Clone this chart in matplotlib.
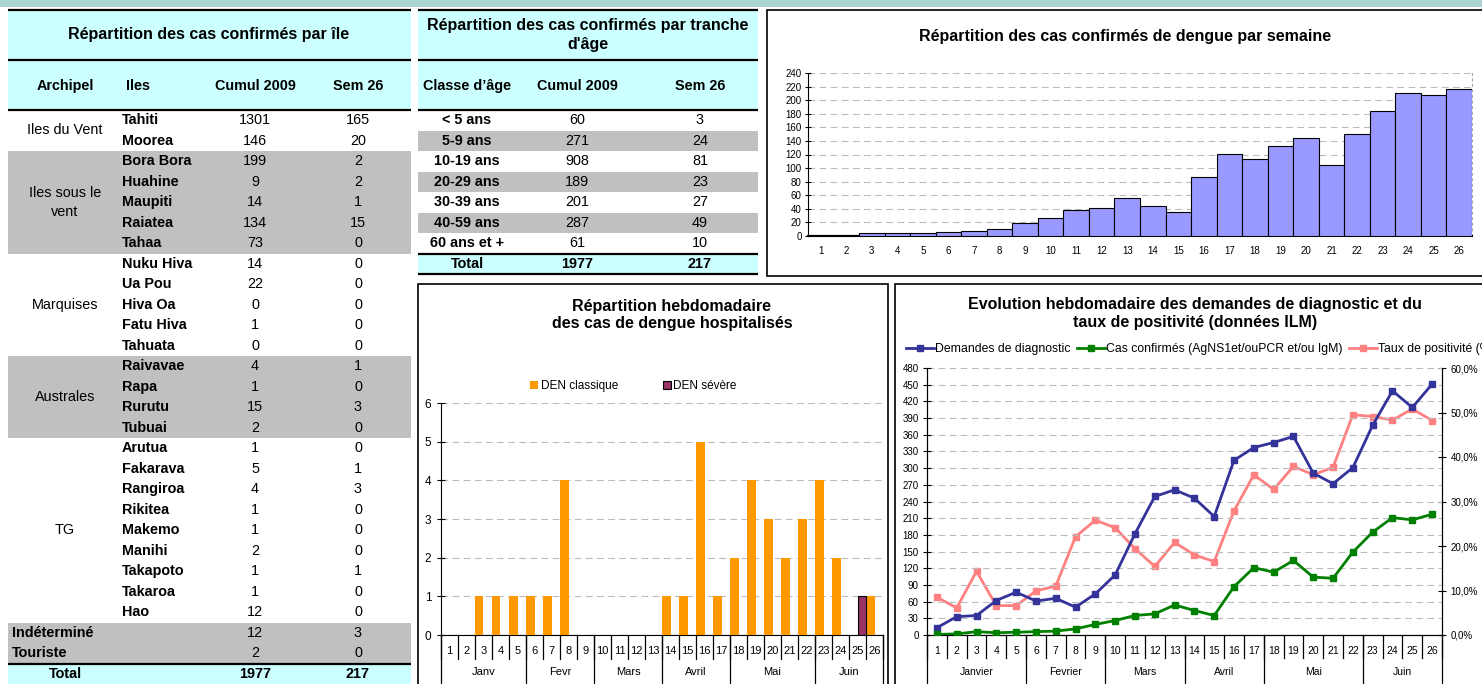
import matplotlib.pyplot as plt
import matplotlib.transforms as mtransforms
from matplotlib.patches import Rectangle
import numpy as np

plt.rcParams['font.family'] = ['Liberation Sans', 'DejaVu Sans']

W, H = 1482, 684

# table par ile
archipels = ["Iles du Vent", "Iles sous le\nvent", "Marquises", "Australes", "TG"]
archipel_sizes = [2, 5, 5, 4, 9]
iles = ["Tahiti", "Moorea", "Bora Bora", "Huahine", "Maupiti", "Raiatea", "Tahaa",
        "Nuku Hiva", "Ua Pou", "Hiva Oa", "Fatu Hiva", "Tahuata",
        "Raivavae", "Rapa", "Rurutu", "Tubuai",
        "Arutua", "Fakarava", "Rangiroa", "Rikitea", "Makemo", "Manihi",
        "Takapoto", "Takaroa", "Hao"]
iles_cumul = [1301, 146, 199, 9, 14, 134, 73, 14, 22, 0, 1, 0, 4, 1, 15, 2,
              1, 5, 4, 1, 1, 2, 1, 1, 12]
iles_sem26 = [165, 20, 2, 2, 1, 15, 0, 0, 0, 0, 0, 0, 1, 0, 3, 0,
              0, 1, 3, 0, 0, 0, 1, 0, 0]
autres = ["Indéterminé", "Touriste"]
autres_cumul = [12, 2]
autres_sem26 = [3, 0]
total_cumul, total_sem26 = 1977, 217

# table par age
age_classes = ["< 5 ans", "5-9 ans", "10-19 ans", "20-29 ans", "30-39 ans",
               "40-59 ans", "60 ans et +"]
age_cumul = [60, 271, 908, 189, 201, 287, 61]
age_sem26 = [3, 24, 81, 23, 27, 49, 10]

# cas confirmes par semaine
semaines = list(range(1, 27))
cas_confirmes = [1, 2, 5, 5, 5, 6, 8, 11, 19, 27, 39, 41, 56, 44, 35, 87,
                 121, 113, 133, 145, 104, 150, 184, 211, 208, 217]

# hospitalisations
den_classique = [0, 0, 1, 1, 1, 1, 1, 4, 0, 0, 0, 0, 0, 1, 1, 5, 1, 2, 4, 3,
                 2, 3, 4, 2, 0, 1]
den_severe = [0, 0, 0, 0, 0, 0, 0, 0, 0, 0, 0, 0, 0, 0, 0, 0, 0, 0, 0, 0,
              0, 0, 0, 0, 1, 0]
mois_courts = ["Janv", "Fevr", "Mars", "Avril", "Mai", "Juin"]
mois_longs = ["Janvier", "Fevrier", "Mars", "Avril", "Mai", "Juin"]
mois_nb_sem = [5, 4, 4, 4, 5, 4]

# donnees ILM
demandes = [13, 33, 35, 62, 77, 61, 66, 50, 74, 108, 182, 249, 261, 246, 213,
            314, 337, 346, 357, 291, 272, 301, 377, 439, 409, 451]
confirmes_ilm = [1, 2, 6, 4, 5, 6, 7, 11, 19, 26, 35, 38, 54, 44, 35, 87, 121,
                 113, 134, 104, 102, 149, 185, 211, 207, 217]
taux = [8.5, 6.1, 14.3, 6.6, 6.6, 9.9, 11.0, 22.1, 25.8, 24.1, 19.4, 15.4,
        20.8, 18.0, 16.5, 27.9, 36.0, 32.7, 37.9, 36.0, 37.7, 49.5, 49.1, 48.3,
        50.8, 48.2]

CYAN = '#ccffff'
GRAY = '#c0c0c0'
TFS = 10.4     # table text
TTL = 11.5     # titles

fig = plt.figure(figsize=(W / 100, H / 100), dpi=100)
bg = fig.add_axes([0, 0, 1, 1])
bg.set_xlim(0, W)
bg.set_ylim(H, 0)
bg.axis('off')


def rect(x0, y0, x1, y1, **kw):
    bg.add_patch(Rectangle((x0, y0), x1 - x0, y1 - y0, **kw))


def hline(x0, x1, y, lw=1.6):
    bg.plot([x0, x1], [y, y], color='black', lw=lw, solid_capstyle='butt')


def px_axes(x0, y0, x1, y1):
    return fig.add_axes([x0 / W, 1 - y1 / H, (x1 - x0) / W, (y1 - y0) / H])


rect(0, 0, W, 7, fc='#a9d4d2', ec='none')

# ---------- table 1 ----------
x0, x1 = 8, 411
rh = 20.5
top = 110
rect(x0, 10, x1, top, fc=CYAN, ec='none')
bg.text(209, 35, "Répartition des cas confirmés par île", ha='center', va='center',
        fontsize=TTL, weight='bold')
for lab, xc in zip(["Archipel", "Iles", "Cumul 2009", "Sem 26"], [65, 138, 255, 358]):
    bg.text(xc, 86, lab, ha='center', va='center', fontsize=TFS, weight='bold')

r = 0
for gi, (arch, n) in enumerate(zip(archipels, archipel_sizes)):
    if gi % 2 == 1:
        rect(x0, top + r * rh, x1, top + (r + n) * rh, fc=GRAY, ec='none')
    bg.text(65, top + (r + n / 2) * rh, arch, ha='center', va='center',
            fontsize=TFS, linespacing=1.45)
    r += n
for i, (ile, c, s) in enumerate(zip(iles, iles_cumul, iles_sem26)):
    yc = top + (i + 0.5) * rh
    bg.text(122, yc, ile, ha='left', va='center', fontsize=TFS, weight='bold')
    bg.text(255, yc, str(c), ha='center', va='center', fontsize=TFS)
    bg.text(358, yc, str(s), ha='center', va='center', fontsize=TFS)
rect(x0, top + r * rh, x1, top + (r + len(autres)) * rh, fc=GRAY, ec='none')
for lab, c, s in zip(autres, autres_cumul, autres_sem26):
    yc = top + (r + 0.5) * rh
    bg.text(12, yc, lab, ha='left', va='center', fontsize=TFS, weight='bold')
    bg.text(255, yc, str(c), ha='center', va='center', fontsize=TFS)
    bg.text(358, yc, str(s), ha='center', va='center', fontsize=TFS)
    r += 1
rect(x0, top + r * rh, x1, H, fc=CYAN, ec='none')
yc = top + (r + 0.5) * rh
bg.text(65, yc, "Total", ha='center', va='center', fontsize=TFS, weight='bold')
bg.text(255, yc, str(total_cumul), ha='center', va='center', fontsize=TFS, weight='bold')
bg.text(358, yc, str(total_sem26), ha='center', va='center', fontsize=TFS, weight='bold')
for y in [10, 60, top, top + r * rh]:
    hline(x0, x1, y)

# ---------- table 2 ----------
x0, x1 = 418, 758
rect(x0, 10, x1, top, fc=CYAN, ec='none')
bg.text(588, 35, "Répartition des cas confirmés par tranche\nd'âge", ha='center',
        va='center', fontsize=TTL, weight='bold', linespacing=1.3)
for lab, xc in zip(["Classe d\u2019âge", "Cumul 2009", "Sem 26"], [467, 577, 700]):
    bg.text(xc, 86, lab, ha='center', va='center', fontsize=TFS, weight='bold')
for i, (cl, c, s) in enumerate(zip(age_classes, age_cumul, age_sem26)):
    if i % 2 == 1:
        rect(x0, top + i * rh, x1, top + (i + 1) * rh, fc=GRAY, ec='none')
    yc = top + (i + 0.5) * rh
    bg.text(467, yc, cl, ha='center', va='center', fontsize=TFS, weight='bold')
    bg.text(577, yc, str(c), ha='center', va='center', fontsize=TFS)
    bg.text(700, yc, str(s), ha='center', va='center', fontsize=TFS)
n = len(age_classes)
rect(x0, top + n * rh, x1, top + (n + 1) * rh, fc=CYAN, ec='none')
yc = top + (n + 0.5) * rh
bg.text(467, yc, "Total", ha='center', va='center', fontsize=TFS, weight='bold')
bg.text(577, yc, str(sum(age_cumul)), ha='center', va='center', fontsize=TFS, weight='bold')
bg.text(700, yc, str(sum(age_sem26)), ha='center', va='center', fontsize=TFS, weight='bold')
for y in [10, 60, top, top + n * rh, top + (n + 1) * rh]:
    hline(x0, x1, y)

# ---------- weekly confirmed cases ----------
rect(767, 10, 1495, 276, fc='white', ec='black', lw=1.2, zorder=0)
bg.text(1125, 36, "Répartition des cas confirmés de dengue par semaine", ha='center',
        va='center', fontsize=TTL, weight='bold')
ax1 = px_axes(808, 73, 1472, 236)
ax1.bar(semaines, cas_confirmes, width=1.0, color='#9999ff', edgecolor='black',
        lw=0.8, zorder=3)
ax1.set_xlim(0.5, 26.5)
ax1.set_ylim(0, 240)
ax1.set_yticks(range(0, 241, 20))
ax1.set_xticks(semaines)
ax1.tick_params(axis='x', length=0, pad=7, labelsize=7)
ax1.tick_params(axis='y', direction='inout', length=5, labelsize=7, pad=2)
ax1.grid(axis='y', ls=(0, (6, 4)), color='#bbbbbb', lw=0.8)
ax1.set_axisbelow(True)
ax1.spines['top'].set_visible(False)
ax1.spines['right'].set_linestyle((0, (2, 3)))
ax1.spines['right'].set_color('#aaaaaa')
ax1.spines['bottom'].set_linewidth(1.5)
ax1.patch.set_alpha(0)


def week_separators(ax, short, long_, month_y, names, fs):
    trans = mtransforms.blended_transform_factory(ax.transData, ax.transAxes)
    bounds = np.cumsum([0] + mois_nb_sem) + 0.5
    for b in np.arange(0.5, 27, 1.0):
        ax.plot([b, b], [0, -short], transform=trans, color='black', lw=0.9,
                clip_on=False)
    for b in bounds:
        ax.plot([b, b], [0, -long_], transform=trans, color='black', lw=0.9,
                clip_on=False)
    for name, a, b in zip(names, bounds[:-1], bounds[1:]):
        ax.text((a + b) / 2, -month_y, name, transform=trans, ha='center',
                va='center', fontsize=fs)


# ---------- hospitalisations ----------
rect(418, 284, 888, 720, fc='white', ec='black', lw=1.2, zorder=0)
bg.text(672, 315, "Répartition hebdomadaire\ndes cas de dengue hospitalisés",
        ha='center', va='center', fontsize=TTL, weight='bold', linespacing=1.2)
ax2 = px_axes(441, 403, 883, 635)
x = np.array(semaines)
ax2.bar(x - 0.25, den_classique, width=0.5, color='#ff9900', zorder=3,
        label='DEN classique')
ax2.bar(x + 0.25, den_severe, width=0.5, color='#993366', edgecolor='black',
        lw=0.8, zorder=3, label='DEN sévère')
ax2.set_xlim(0.5, 26.5)
ax2.set_ylim(0, 6)
ax2.set_yticks(range(0, 7))
ax2.set_xticks(semaines)
ax2.tick_params(axis='x', length=0, pad=8, labelsize=8)
ax2.tick_params(axis='y', direction='inout', length=6, labelsize=8.5, pad=4)
ax2.grid(axis='y', ls=(0, (6, 4)), color='#bbbbbb', lw=0.8)
ax2.set_axisbelow(True)
for s in ['top', 'right']:
    ax2.spines[s].set_visible(False)
ax2.patch.set_alpha(0)
week_separators(ax2, 0.105, 0.3, 0.16, mois_courts, 8)
ax2.legend(loc='center', bbox_to_anchor=(0.435, 1.073), ncol=2, frameon=False,
           fontsize=8.5, handlelength=0.7, handleheight=0.7, handletextpad=0.2,
           columnspacing=3.8)

# ---------- ILM ----------
rect(895, 284, 1495, 720, fc='white', ec='black', lw=1.2, zorder=0)
bg.text(1195, 314, "Evolution hebdomadaire des demandes de diagnostic et du\n"
        "taux de positivité (données ILM)", ha='center', va='center',
        fontsize=TTL, weight='bold', linespacing=1.25)
ax3 = px_axes(927, 368, 1442, 635)
ax3.plot(semaines, demandes, color='#333399', marker='s', ms=4, lw=2,
         label='Demandes de diagnostic', zorder=4)
ax3.plot(semaines, confirmes_ilm, color='#008000', marker='s', ms=4, lw=2,
         label='Cas confirmés (AgNS1et/ouPCR et/ou IgM)', zorder=4)
ax3.set_xlim(0.5, 26.5)
ax3.set_ylim(0, 480)
ax3.set_yticks(range(0, 481, 30))
ax3.set_xticks(semaines)
ax3.tick_params(axis='x', length=0, pad=8, labelsize=7.5)
ax3.tick_params(axis='y', direction='inout', length=6, labelsize=7, pad=3)
ax3.grid(axis='y', ls=(0, (6, 4)), color='#bbbbbb', lw=0.8)
ax3.set_axisbelow(True)
ax3.spines['top'].set_visible(False)
ax3.patch.set_alpha(0)
ax3b = ax3.twinx()
ax3b.plot(semaines, taux, color='#ff8080', marker='s', ms=4, lw=2,
          label='Taux de positivité (%)', zorder=3)
ax3b.set_ylim(0, 60)
ax3b.set_yticks(range(0, 61, 10))
ax3b.set_yticklabels([f"{v:.1f}%".replace('.', ',') for v in range(0, 61, 10)])
ax3b.tick_params(axis='y', direction='inout', length=6, labelsize=7, pad=3)
ax3b.spines['top'].set_visible(False)
ax3.set_zorder(ax3b.get_zorder() + 1)
week_separators(ax3, 0.086, 0.3, 0.139, mois_longs, 7.5)
h1, l1 = ax3.get_legend_handles_labels()
h2, l2 = ax3b.get_legend_handles_labels()
ax3.legend(h1 + h2, l1 + l2, loc='center left', bbox_to_anchor=(-0.05, 1.071),
           ncol=3, frameon=False, fontsize=8.8, handlelength=2.3,
           handletextpad=0.1, columnspacing=0.5, borderaxespad=0)

fig.savefig('out.png', dpi=100)
